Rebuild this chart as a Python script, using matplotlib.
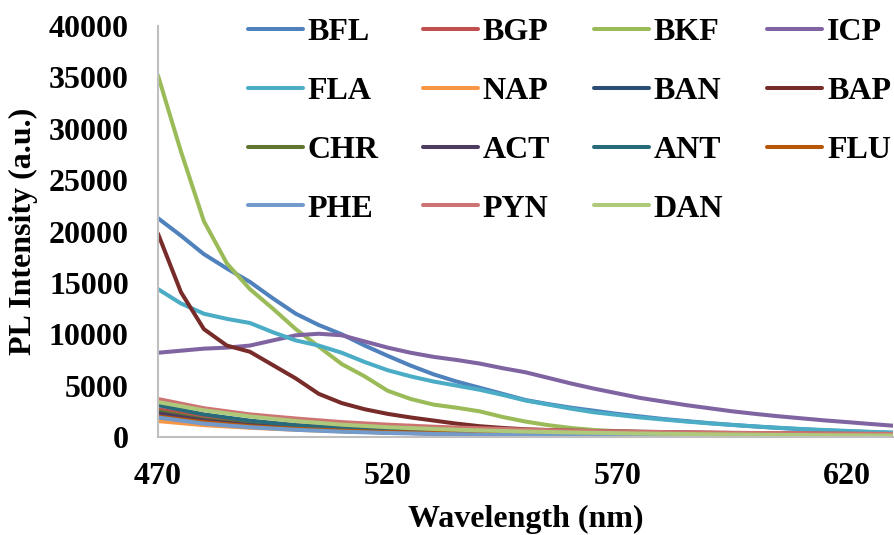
import matplotlib.pyplot as plt
import numpy as np

# wavelengths (nm)
wl5 = np.arange(470, 635, 5)
wl10 = np.arange(470, 640, 10)

# strong emitters, read every 5 nm
bfl = [21300, 19600, 17800, 16400, 15100, 13500, 12000, 10900, 10000, 8900,
       7900, 6950, 6100, 5400, 4800, 4200, 3600, 3200, 2850, 2550,
       2250, 2000, 1750, 1550, 1350, 1180, 1020, 880, 760, 650,
       560, 480, 410]
fla = [14400, 13000, 12000, 11500, 11100, 10200, 9400, 8900, 8200, 7300,
       6500, 5900, 5400, 5000, 4600, 4100, 3550, 3150, 2750, 2400,
       2150, 1900, 1700, 1500, 1330, 1170, 1030, 900, 780, 680,
       590, 500, 420]
bkf = [35200, 27800, 21000, 16900, 14400, 12500, 10500, 8800, 7100, 5900,
       4500, 3700, 3150, 2850, 2500, 1950, 1500, 1150, 870, 680,
       560, 480, 420, 380, 340, 310, 280, 250, 230, 210,
       190, 170, 150]
icp = [8200, 8400, 8600, 8700, 8900, 9400, 9900, 10050, 9900, 9300,
       8700, 8200, 7800, 7500, 7150, 6700, 6300, 5750, 5200, 4700,
       4250, 3800, 3450, 3100, 2800, 2500, 2250, 2020, 1820, 1620,
       1450, 1270, 1100]
bap = [19800, 14100, 10500, 8900, 8300, 7000, 5700, 4200, 3300, 2700,
       2250, 1900, 1600, 1300, 1050, 880, 750, 680, 620, 580,
       550, 510, 480, 450, 420, 390, 370, 350, 330, 315,
       300, 290, 280]

# weak emitters, read every 10 nm
bgp = [2700, 2000, 1500, 1150, 900, 720, 600, 520, 460, 420, 390, 370, 350, 340, 330, 320, 310]
nap = [1550, 1150, 900, 700, 550, 430, 340, 270, 220, 180, 150, 130, 110, 100, 90, 80, 70]
ban = [2100, 1500, 1050, 780, 580, 440, 340, 270, 220, 180, 150, 130, 110, 100, 90, 80, 70]
chr_ = [2500, 1700, 1250, 950, 720, 560, 450, 370, 310, 270, 240, 210, 190, 170, 160, 150, 140]
act = [2300, 1600, 1150, 850, 650, 500, 400, 320, 270, 230, 200, 180, 160, 150, 140, 130, 120]
ant = [3100, 2200, 1600, 1150, 850, 620, 470, 370, 300, 250, 210, 180, 160, 140, 120, 110, 100]
flu = [2000, 1450, 1050, 800, 620, 490, 400, 340, 300, 270, 250, 230, 220, 210, 200, 190, 180]
phe = [1900, 1300, 950, 700, 520, 390, 300, 230, 180, 140, 110, 90, 80, 70, 60, 55, 50]
pyn = [3700, 2800, 2200, 1800, 1450, 1200, 1000, 850, 720, 620, 540, 480, 430, 390, 360, 330, 300]
dan = [3400, 2600, 2000, 1550, 1200, 950, 780, 640, 530, 440, 370, 310, 260, 220, 190, 160, 140]

series = [
    ('BFL', wl5, bfl, '#4F81BD'),
    ('BGP', wl10, bgp, '#C0504D'),
    ('BKF', wl5, bkf, '#9BBB59'),
    ('ICP', wl5, icp, '#8064A2'),
    ('FLA', wl5, fla, '#4BACC6'),
    ('NAP', wl10, nap, '#F79646'),
    ('BAN', wl10, ban, '#2C4D75'),
    ('BAP', wl5, bap, '#772C2A'),
    ('CHR', wl10, chr_, '#5F7530'),
    ('ACT', wl10, act, '#4D3B62'),
    ('ANT', wl10, ant, '#276A7C'),
    ('FLU', wl10, flu, '#B65708'),
    ('PHE', wl10, phe, '#729ACA'),
    ('PYN', wl10, pyn, '#CD7371'),
    ('DAN', wl10, dan, '#AFC97A'),
]

plt.rcParams['font.family'] = ['Liberation Serif', 'DejaVu Serif']
plt.rcParams['font.weight'] = 'bold'

fig = plt.figure(figsize=(8.95, 5.35), dpi=100)
ax = fig.add_axes([0.1765, 0.1832, 0.8213, 0.768])

lines = {}
for name, x, y, c in series:
    ln, = ax.plot(x, y, color=c, lw=2.9, label=name,
                  solid_capstyle='round', solid_joinstyle='round')
    lines[name] = ln

ax.set_xlim(470, 630)
ax.set_ylim(0, 40000)
ax.set_xticks([470, 520, 570, 620])
ax.set_yticks(range(0, 40001, 5000))

for s in ['top', 'right']:
    ax.spines[s].set_visible(False)
for s in ['left', 'bottom']:
    ax.spines[s].set_color('#BFBFBF')
    ax.spines[s].set_linewidth(1.5)
ax.tick_params(axis='both', length=0, labelsize=23)
ax.tick_params(axis='y', pad=21)
ax.tick_params(axis='x', pad=18)

ax.set_xlabel('Wavelength (nm)', fontsize=23, fontweight='bold', labelpad=10)
ax.set_ylabel('PL Intensity (a.u.)', fontsize=23, fontweight='bold', labelpad=8)

# legend filled column by column so rows read BFL BGP BKF ICP ...
order = ['BFL', 'FLA', 'CHR', 'PHE',
         'BGP', 'NAP', 'ACT', 'PYN',
         'BKF', 'BAN', 'ANT', 'DAN',
         'ICP', 'BAP', 'FLU']
fig.legend([lines[n] for n in order], order, ncol=4, frameon=False,
           loc='upper left', bbox_to_anchor=(248 / 895, 1 - 18 / 535),
           handlelength=1.72, handletextpad=0.15,
           columnspacing=1.38, labelspacing=0.92, borderpad=0, borderaxespad=0,
           prop={'weight': 'bold', 'size': 23})

plt.savefig('out.png', dpi=100)
